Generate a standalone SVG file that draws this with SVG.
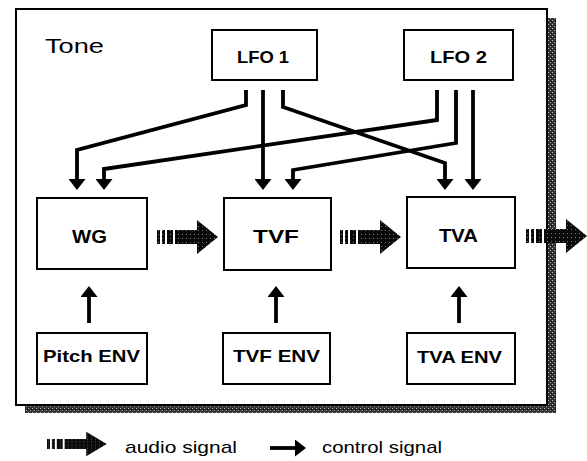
<svg xmlns="http://www.w3.org/2000/svg" width="587" height="461" viewBox="0 0 587 461">
<style>
.box{fill:#fff;stroke:#000;stroke-width:2}
.lbl{font-family:"Liberation Sans",Arial,sans-serif;fill:#000;font-weight:bold}
.reg{font-family:"Liberation Sans",Arial,sans-serif;fill:#000;font-weight:normal}
.ctl{fill:none;stroke:#000;stroke-width:3.8;stroke-linejoin:miter}
</style>
<defs>
<pattern id="stip" width="4" height="4" patternUnits="userSpaceOnUse">
<rect width="4" height="4" fill="#0a0a0a"/>
<rect x="1" y="1" width="1" height="1" fill="#777"/>
</pattern>
<pattern id="shad" width="4" height="4" patternUnits="userSpaceOnUse">
<rect width="4" height="4" fill="#333"/>
<rect x="0" y="0" width="1" height="1" fill="#bbb"/>
<rect x="2" y="2" width="1" height="1" fill="#aaa"/>
<rect x="3" y="1" width="1" height="1" fill="#000"/>
</pattern>
<marker id="ah" viewBox="0 0 11 17" refX="3" refY="8.5" markerWidth="11" markerHeight="17" markerUnits="userSpaceOnUse" orient="auto">
<path d="M0,0 L11,8.5 L0,17 z" fill="#000"/>
</marker>
<g id="audio">
<rect x="0" y="-7" width="3" height="14" fill="url(#stip)"/>
<rect x="5" y="-7" width="3" height="14" fill="url(#stip)"/>
<rect x="10" y="-7" width="6" height="14" fill="url(#stip)"/>
<polygon points="18,-7 40,-7 40,-17 61,0 40,17 40,7 18,7" fill="url(#stip)"/>
</g>
</defs>

<g id="frame">
<rect x="548" y="18" width="8" height="395" fill="url(#shad)"/>
<rect x="25" y="405" width="531" height="8" fill="url(#shad)"/>
<rect x="16" y="9" width="531" height="396" fill="#fff" stroke="#000" stroke-width="2"/>
<text class="reg" x="45" y="53" font-size="21" textLength="59" lengthAdjust="spacingAndGlyphs">Tone</text>
</g>

<g id="connectors">
<path class="ctl" d="M246,90 V105 L77,150 V182" marker-end="url(#ah)"/>
<path class="ctl" d="M263,90 V182" marker-end="url(#ah)"/>
<path class="ctl" d="M283,90 V107 L445,163 V182" marker-end="url(#ah)"/>
<path class="ctl" d="M437,90 V120 L104,169 V182" marker-end="url(#ah)"/>
<path class="ctl" d="M456,90 V143 L293,170 V182" marker-end="url(#ah)"/>
<path class="ctl" d="M473,90 V182" marker-end="url(#ah)"/>
<path class="ctl" d="M89,323 V294" marker-end="url(#ah)"/>
<path class="ctl" d="M276,323 V294" marker-end="url(#ah)"/>
<path class="ctl" d="M459,323 V294" marker-end="url(#ah)"/>
<use href="#audio" transform="translate(157,237)"/>
<use href="#audio" transform="translate(340,237)"/>
<use href="#audio" transform="translate(526,236)"/>
</g>

<g id="lfo1">
<rect class="box" x="212" y="30" width="105" height="50"/>
<text class="lbl" x="237" y="63" font-size="17" textLength="52" lengthAdjust="spacingAndGlyphs">LFO 1</text>
</g>
<g id="lfo2">
<rect class="box" x="404" y="30" width="109" height="50"/>
<text class="lbl" x="430" y="63" font-size="17" textLength="57" lengthAdjust="spacingAndGlyphs">LFO 2</text>
</g>
<g id="wg">
<rect class="box" x="37" y="198" width="110" height="71"/>
<text class="lbl" x="72" y="243" font-size="19" textLength="35" lengthAdjust="spacingAndGlyphs">WG</text>
</g>
<g id="tvf">
<rect class="box" x="224" y="198" width="107" height="72"/>
<text class="lbl" x="253" y="243" font-size="19" textLength="46" lengthAdjust="spacingAndGlyphs">TVF</text>
</g>
<g id="tva">
<rect class="box" x="407" y="197" width="108" height="71"/>
<text class="lbl" x="439" y="242" font-size="19" textLength="39" lengthAdjust="spacingAndGlyphs">TVA</text>
</g>
<g id="pitchenv">
<rect class="box" x="37" y="333" width="110" height="51"/>
<text class="lbl" x="43" y="362" font-size="17" textLength="97" lengthAdjust="spacingAndGlyphs">Pitch ENV</text>
</g>
<g id="tvfenv">
<rect class="box" x="223" y="333" width="107" height="51"/>
<text class="lbl" x="233" y="362" font-size="17" textLength="87" lengthAdjust="spacingAndGlyphs">TVF ENV</text>
</g>
<g id="tvaenv">
<rect class="box" x="407" y="333" width="108" height="51"/>
<text class="lbl" x="417" y="363" font-size="17" textLength="85" lengthAdjust="spacingAndGlyphs">TVA ENV</text>
</g>

<g id="legend">
<use href="#audio" transform="translate(47,444) scale(0.98,0.72)"/>
<text class="reg" x="125" y="453" font-size="17" textLength="112" lengthAdjust="spacingAndGlyphs">audio signal</text>
<path class="ctl" d="M270,448 H298" marker-end="url(#ah)"/>
<text class="reg" x="322" y="453" font-size="17" textLength="120" lengthAdjust="spacingAndGlyphs">control signal</text>
</g>
</svg>
